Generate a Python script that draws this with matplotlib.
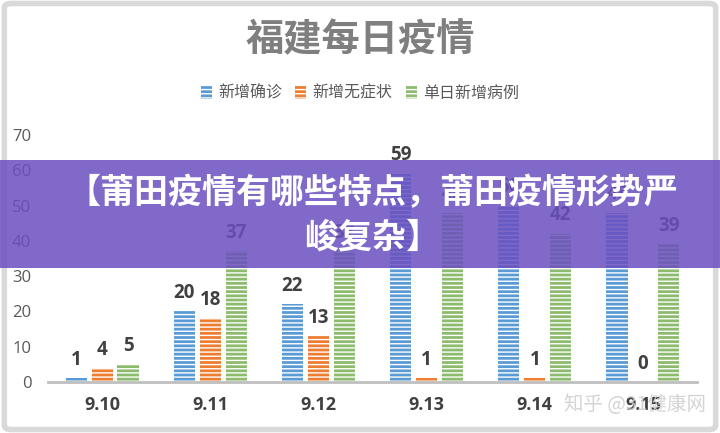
import numpy as np
import matplotlib
matplotlib.use('Agg')
import matplotlib.pyplot as plt
from matplotlib.patches import FancyBboxPatch, Rectangle

plt.rcParams['font.family'] = ['Noto Sans CJK SC', 'DejaVu Sans']

dates = ['9.10', '9.11', '9.12', '9.13', '9.14', '9.15']
series_names = ['新增确诊', '新增无症状', '单日新增病例']
confirmed = [1, 20, 22, 59, 50, 48]
asymptomatic = [4, 18, 13, 1, 1, 0]
daily_total = [5, 37, 37, 48, 42, 39]
colors = ['#5B9BD5', '#ED7D31', '#8DBB6E']

fig = plt.figure(figsize=(7.2, 4.33), dpi=100)
fig.patch.set_facecolor('white')

# outer light-gray frame
fig.patches.append(FancyBboxPatch((0.006, 0.008), 0.988, 0.984, boxstyle='round,pad=0,rounding_size=0.01',
                                  transform=fig.transFigure, fill=False, edgecolor='#d9d9d9', linewidth=4))

ax = fig.add_axes([48 / 720, 51 / 433, 649 / 720, 247 / 433])
x = np.arange(len(dates))
w, step = 0.195, 0.24
plt.rcParams['hatch.linewidth'] = 1.0
for i, (vals, c) in enumerate(zip([confirmed, asymptomatic, daily_total], colors)):
    bars = ax.bar(x + (i - 1) * step, vals, w, color=c, edgecolor='white', linewidth=0,
                  hatch='----', label=series_names[i], zorder=2)
    for b, v in zip(bars, vals):
        ax.annotate(str(v), (b.get_x() + b.get_width() / 2, v), xytext=(0, 6), textcoords='offset points',
                    ha='center', va='bottom', fontsize=13.5, fontweight='bold', color='#404040',
                    family=['Open Sans', 'DejaVu Sans'])

ax.set_xlim(-0.5, len(dates) - 0.5)
ax.set_ylim(0, 70)
ax.set_yticks(range(0, 71, 10))
ax.set_xticks(x)
ax.set_xticklabels(dates, fontsize=13, fontweight='bold', color='#404040', family=['Open Sans', 'DejaVu Sans'])
for t in ax.get_yticklabels():
    t.set_family(['Open Sans', 'DejaVu Sans'])
ax.tick_params(axis='y', length=0, labelsize=12, labelcolor='#595959', pad=12)
ax.tick_params(axis='x', length=0, pad=10)
for s in ['top', 'right', 'left']:
    ax.spines[s].set_visible(False)
ax.spines['bottom'].set_color('#bfbfbf')
ax.spines['bottom'].set_linewidth(2)

fig.text(0.5, (433 - 40) / 433, '福建每日疫情', ha='center', va='center', fontsize=27.5, fontweight='bold', color='#7f7f7f')
ax.legend(loc='center', bbox_to_anchor=(0.5, (433 - 93) / 433), bbox_transform=fig.transFigure, ncol=3,
          frameon=False, fontsize=11.5, handlelength=0.7, handleheight=0.9, handletextpad=0.4,
          columnspacing=0.8, labelcolor='#595959')

# purple banner overlay
fig.patches.append(Rectangle((0, (433 - 268) / 433), 1, 108 / 433, transform=fig.transFigure,
                             facecolor='#6A4FC0', alpha=0.85, edgecolor='none', zorder=10))
fig.text(372 / 720, (433 - 193) / 433, '【莆田疫情有哪些特点，莆田疫情形势严', ha='center', va='center',
         fontsize=24.5, fontweight='heavy', color='white', zorder=11)
fig.text(372 / 720, (433 - 237) / 433, '峻复杂】', ha='center', va='center',
         fontsize=24.5, fontweight='heavy', color='white', zorder=11)

# watermark
fig.text(635 / 720, (433 - 405) / 433, '知乎 @31健康网', ha='center', va='center', fontsize=14,
         color='#d0d0d0', alpha=0.9, zorder=11)

fig.savefig('out.png', dpi=100)
